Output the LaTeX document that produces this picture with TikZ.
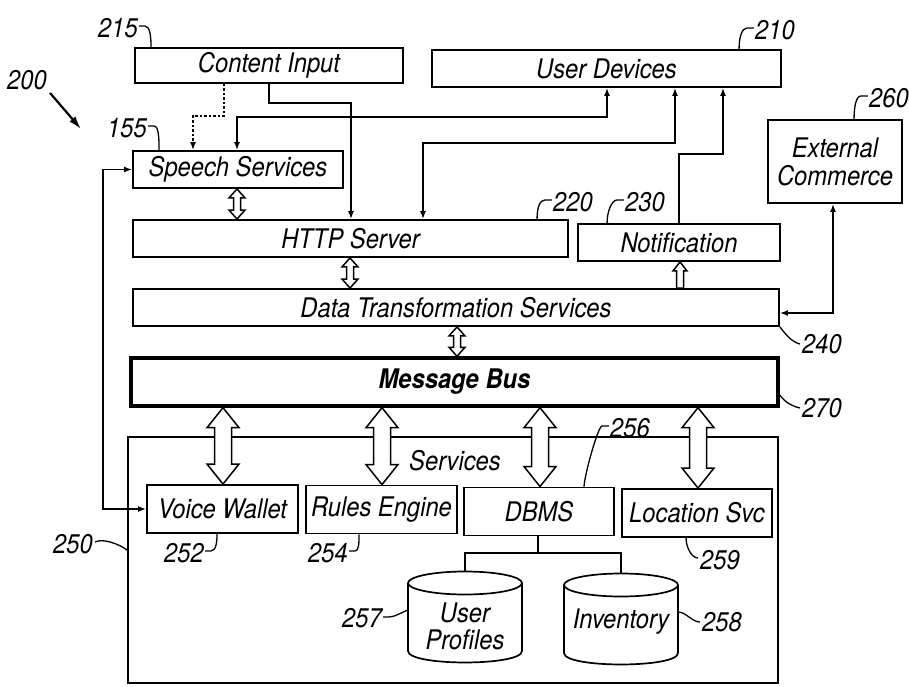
\documentclass[tikz,border=0pt]{standalone}
\usepackage{fontspec}
\setmainfont{TeX Gyre Heros}[FakeStretch=0.88]
\usetikzlibrary{arrows.meta,calc}
\tikzset{
  txt/.style={font=\fontsize{27}{28}\selectfont\itshape, inner sep=0pt},
  box/.style={draw, line width=1.9pt, inner sep=0pt, font=\fontsize{27}{28}\selectfont\itshape},
  conn/.style={line width=1.5pt},
  leader/.style={line width=1.3pt},
  hollow/.style={line width=1.5pt, fill=white, line join=miter},
  tip/.tip={Latex[length=8pt,width=6pt]},
}
\newcommand\dblarr[5]{%
  \draw[hollow] let \p1=#1, \p2=#2 in
    (\x1,\y1) -- (\x1+#4,\y1-#5) -- (\x1+#3,\y1-#5) -- (\x1+#3,\y2+#5) -- (\x1+#4,\y2+#5)
    -- (\x1,\y2) -- (\x1-#4,\y2+#5) -- (\x1-#3,\y2+#5) -- (\x1-#3,\y1-#5) -- (\x1-#4,\y1-#5) -- cycle;}
\newcommand\uparr[5]{%
  \draw[hollow] let \p1=#1, \p2=#2 in
    (\x1,\y1) -- (\x1+#4,\y1-#5) -- (\x1+#3,\y1-#5) -- (\x1+#3,\y2)
    -- (\x1-#3,\y2) -- (\x1-#3,\y1-#5) -- (\x1-#4,\y1-#5) -- cycle;}
\begin{document}
\begin{tikzpicture}[x=1pt,y=-1pt]
\useasboundingbox (0,0) rectangle (909,687);
\fill[white] (0,0) rectangle (909,687);

% boxes
\node[box, minimum width=268pt, minimum height=35pt] (content) at (269,65.5) {Content Input};
\node[box, minimum width=349pt, minimum height=37pt] (userdev) at (606.5,68.5) {User Devices};
\node[box, minimum width=210pt, minimum height=37pt] (speech) at (238,169.5) {Speech Services};
\node[box, minimum width=435pt, minimum height=37pt] (http) at (350.5,238.5) {HTTP Server};
\node[box, minimum width=202pt, minimum height=37pt] (notif) at (679,242.5) {Notification};
\node[box, minimum width=134pt, minimum height=83pt, align=center] (extcom) at (835,161.5) {External\\Commerce};
\node[box, minimum width=646pt, minimum height=37pt] (dts) at (456,307.5) {Data Transformation Services};
\node[box, line width=3.4pt, minimum width=647pt, minimum height=48pt, font=\fontsize{27}{28}\selectfont\bfseries\itshape] (bus) at (454.5,382) {Message Bus};
\node[box, minimum width=650pt, minimum height=246pt] (services) at (453,560) {};
\node[txt] (servlbl) at (455,461) {Services};
\node[box, minimum width=151pt, minimum height=48pt] (vw) at (222.5,509) {Voice Wallet};
\node[box, minimum width=151pt, minimum height=48pt] (re) at (381.5,509.5) {Rules Engine};
\node[box, minimum width=150pt, minimum height=48pt] (dbms) at (539,511.5) {DBMS};
\node[box, minimum width=150pt, minimum height=48pt] (loc) at (697,513) {Location Svc};

% cylinders
\draw[line width=1.7pt] (408,583) -- (408,651) .. controls (408,666.3) and (522,666.3) .. (522,651) -- (522,583);
\draw[line width=1.7pt] (465,583) ellipse (57 and 11.5);
\coordinate (upTop) at (465,571.5);
\node[txt, align=center, font=\fontsize{27}{27}\selectfont\itshape] (uprof) at (465,626) {User\\Profiles};
\draw[line width=1.7pt] (564,585) -- (564,653) .. controls (564,668.3) and (678,668.3) .. (678,653) -- (678,585);
\draw[line width=1.7pt] (621,585) ellipse (57 and 11.5);
\coordinate (invTop) at (621,573.5);
\node[txt] (inv) at (621,622) {Inventory};

% DBMS tree
\coordinate (tr) at (538,553);
\draw[conn] (dbms.south -| tr) -- (tr);
\draw[conn] (upTop) |- (tr) -| (invTop);

% connectors
\coordinate (d1) at (224,116); \coordinate (d2) at (193,116);
\draw[conn, dash pattern=on 2.5pt off 2pt, -tip] (content.south -| d1) -- (d1) -- (d2) -- (speech.north -| d2);
\coordinate (s1) at (237,117); \coordinate (s2) at (607,117);
\draw[conn, tip-tip] (speech.north -| s1) -- (s1) -- (s2) -- (userdev.south -| s2);
\coordinate (c1) at (269,103); \coordinate (c2) at (351,103);
\draw[conn, -tip] (content.south -| c1) -- (c1) -- (c2) -- (http.north -| c2);
\coordinate (h1) at (423,143); \coordinate (h2) at (675,143);
\draw[conn, tip-tip] (http.north -| h1) -- (h1) -- (h2) -- (userdev.south -| h2);
\coordinate (m1) at (679,154); \coordinate (m2) at (723,154);
\draw[conn, -tip] (notif.north -| m1) -- (m1) -- (m2) -- (userdev.south -| m2);
\coordinate (e1) at (833,313);
\draw[conn, tip-tip] (extcom.south -| e1) -- (e1) -- (dts.east |- e1);
\coordinate (v1) at (103,0);
\draw[conn, tip-tip] (speech.west) -- (speech.west -| v1) -- (vw.west -| v1) -- (vw.west);

% hollow arrows
\coordinate (x237) at (237,0); \coordinate (x350) at (350,0); \coordinate (x457) at (457,0);
\coordinate (x680) at (680,0);
\dblarr{(speech.south -| x237)}{(http.north -| x237)}{3.5pt}{8pt}{9pt}
\dblarr{(http.south -| x350)}{(dts.north -| x350)}{3.5pt}{8pt}{9pt}
\dblarr{(dts.south -| x457)}{(bus.north -| x457)}{3.5pt}{8pt}{9pt}
\uparr{(notif.south -| x680)}{(dts.north -| x680)}{3.5pt}{7pt}{9pt}
\coordinate (x223) at (223,0); \coordinate (x382) at (382,0); \coordinate (x540) at (540,0); \coordinate (x698) at (698,0);
\dblarr{(bus.south -| x223)}{(vw.north -| x223)}{8.5pt}{16pt}{20pt}
\dblarr{(bus.south -| x382)}{(re.north -| x382)}{8.5pt}{16pt}{20pt}
\dblarr{(bus.south -| x540)}{(dbms.north -| x540)}{8.5pt}{16pt}{20pt}
\dblarr{(bus.south -| x698)}{(loc.north -| x698)}{8.5pt}{16pt}{20pt}

% reference numerals
\node[txt] (n200) at (27,80) {200};
\coordinate (a200) at (81,129);
\draw[line width=2.2pt, -{Latex[length=13pt,width=8pt]}] (n200.south east) ++(3,3) -- (a200);

\node[txt] (n215) at (118,28) {215};
\draw[leader] (n215.east) ++(1,-2) -- ++(6,0) .. controls +(5,0) and +(0,-10) .. ($(content.north west)+(17,0)$);
\node[txt] (n155) at (127,128) {155};
\draw[leader] (n155.east) ++(1,-2) -- ++(6,0) .. controls +(5,0) and +(0,-10) .. ($(speech.north west)+(27,0)$);
\node[txt] (n210) at (775,30) {210};
\draw[leader] (n210.west) ++(-1,-2) -- ++(-7,0) .. controls +(-5,0) and +(0,-12) .. ($(userdev.north west)+(308,0)$);
\node[txt] (n260) at (889,98) {260};
\draw[leader] (n260.west) ++(-1,-2) -- ++(-7,0) .. controls +(-5,0) and +(0,-12) .. ($(extcom.north west)+(87,0)$);
\node[txt] (n220) at (573,202) {220};
\draw[leader] (n220.west) ++(-1,-2) -- ++(-7,0) .. controls +(-5,0) and +(0,-12) .. ($(http.north west)+(405,0)$);
\node[txt] (n230) at (645,202) {230};
\draw[leader] (n230.west) ++(-1,-2) -- ++(-7,0) .. controls +(-5,0) and +(0,-12) .. ($(notif.north west)+(30,0)$);
\node[txt] (n256) at (630,428) {256};
\draw[leader] (n256.west) ++(-1,-2) -- ++(-7,0) .. controls +(-4,0) and +(0,-10) .. ($(dbms.north west)+(121,0)$);
\node[txt] (n240) at (822,344) {240};
\draw[leader] (dts.south east) .. controls +(6,8) and +(-8,-2) .. ($(n240.west)+(-2,0)$);
\node[txt] (n270) at (822,408) {270};
\draw[leader] ($(bus.east)+(0,13)$) .. controls +(6,8) and +(-8,-2) .. ($(n270.west)+(-2,0)$);
\node[txt] (n250) at (73,544) {250};
\draw[leader] ($(n250.east)+(2,-2)$) .. controls +(8,-4) and +(-8,-6) .. ($(services.west)+(0,-10)$);
\node[txt] (n252) at (184,553) {252};
\draw[leader] (n252.east) ++(1,-2) -- ++(6,0) .. controls +(5,0) and +(0,8) .. ($(vw.south west)+(71,0)$);
\node[txt] (n254) at (328,553) {254};
\draw[leader] (n254.east) ++(1,-2) -- ++(6,0) .. controls +(4,0) and +(0,8) .. ($(re.south west)+(54,0)$);
\node[txt] (n259) at (720,560) {259};
\draw[leader] ($(loc.south west)+(65,0)$) .. controls +(0,10) and +(-6,0) .. ($(n259.west)+(-2,-2)$);
\node[txt] (n257) at (362,618) {257};
\draw[leader] (n257.east) ++(1,-1) -- ++(6,0) .. controls +(6,0) and +(-6,2) .. (408,610);
\node[txt] (n258) at (722,622) {258};
\draw[leader] (678,612) .. controls +(8,0) and +(-8,0) .. ($(n258.west)+(-2,0)$);
\end{tikzpicture}
\end{document}
